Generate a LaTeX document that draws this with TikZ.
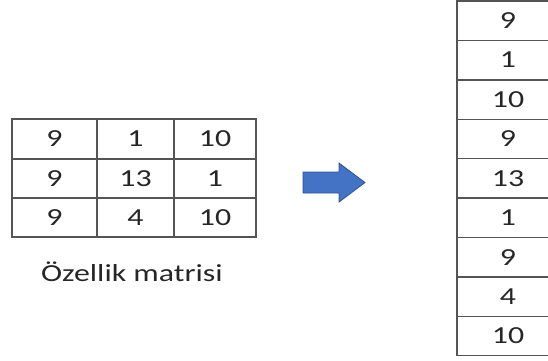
\documentclass[tikz,border=0pt]{standalone}
\usepackage{fontspec}
\newfontfamily\cf[FakeStretch=1.3]{Carlito}
\definecolor{arrfill}{HTML}{4472C4}
\definecolor{arrline}{HTML}{2F528F}
\definecolor{gridc}{HTML}{555555}
\begin{document}
\begin{tikzpicture}[x=1pt,y=-1pt,
  cell/.style={draw=gridc, line width=1.4pt, inner sep=0pt, minimum width=#1,
    font=\cf\fontsize{24.5}{24.5}\selectfont, text=black!85},
  cell/.default=80pt,
  lbl/.style={inner sep=0pt, font=\cf\fontsize{24.5}{24.5}\selectfont, text=black!85}]
\useasboundingbox (0,0) rectangle (548,360);
\clip (0,0) rectangle (548,360);
% left matrix
\node[cell=85pt, minimum height=40pt] (m11) at (54.5,139) {9};
\node[cell=77pt, minimum height=40pt] (m12) at (135.5,139) {1};
\node[cell=82pt, minimum height=40pt] (m13) at (215,139) {10};
\node[cell=85pt, minimum height=39pt] (m21) at (54.5,178.5) {9};
\node[cell=77pt, minimum height=39pt] (m22) at (135.5,178.5) {13};
\node[cell=82pt, minimum height=39pt] (m23) at (215,178.5) {1};
\node[cell=85pt, minimum height=39pt] (m31) at (54.5,217.5) {9};
\node[cell=77pt, minimum height=39pt] (m32) at (135.5,217.5) {4};
\node[cell=82pt, minimum height=39pt] (m33) at (215,217.5) {10};
\node[lbl] (label) at (132,272) {Özellik matrisi};
% arrow
\filldraw[fill=arrfill, draw=arrline, line width=0.8pt]
  (303,172) -- (339,172) -- (339,163) -- (365,182.5) -- (339,202) -- (339,193) -- (303,193) -- cycle;
% right column
\foreach \v [count=\i from 0] in {9,1,10,9,13,1,9,4,10} {
  \node[cell=102pt, minimum height=39.4pt] (v\i) at (508,{20.7+39.4*\i}) {\v};
}
\end{tikzpicture}
\end{document}
